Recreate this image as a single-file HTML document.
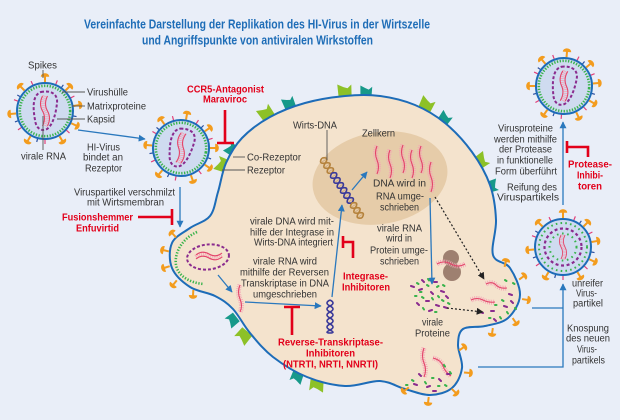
<!DOCTYPE html>
<html>
<head>
<meta charset="utf-8">
<style>
  html,body{margin:0;padding:0;background:#e9eef8;}
  svg{display:block;}
  .t{font-family:"Liberation Sans",Arial,sans-serif;font-size:10px;fill:#333;}
  .r{font-family:"Liberation Sans",Arial,sans-serif;font-size:10px;font-weight:bold;fill:#e2001a;}
  .ti{font-family:"Liberation Sans",Arial,sans-serif;font-size:13px;font-weight:bold;fill:#1e6db7;}
  .rh{fill:none;stroke:#f5a3b5;stroke-width:5;stroke-dasharray:0.8 1.1;}
  .rc{fill:none;stroke:#e3456a;stroke-width:1.1;}
  .ar{fill:none;stroke:#2a78bd;stroke-width:1.3;}
  .ln{stroke:#555;stroke-width:0.9;fill:none;}
  .inh{stroke:#e2001a;stroke-width:2.6;fill:none;}
</style>
</head>
<body>
<svg width="620" height="420" viewBox="0 0 620 420" xmlns="http://www.w3.org/2000/svg">
<defs>
  <marker id="ab" viewBox="0 0 10 10" refX="9" refY="5" markerWidth="7" markerHeight="7" markerUnits="userSpaceOnUse" orient="auto"><path d="M0,0 L10,5 L0,10 z" fill="#2a78bd"/></marker>
  <marker id="ak" viewBox="0 0 10 10" refX="9" refY="5" markerWidth="7" markerHeight="7" markerUnits="userSpaceOnUse" orient="auto"><path d="M0,0 L10,5 L0,10 z" fill="#222"/></marker>
  <g id="spk"><line x1="0" y1="0" x2="0" y2="6" stroke="#f39c1e" stroke-width="2"/><path d="M-4.2,0.8 C-4.2,-4 4.2,-4 4.2,0.8 Z" fill="#f39c1e"/></g>
  <g id="rec"><path d="M-6.5,2 L6.5,2 L7,-10 L3,-6.5 L-1,-8 L-7,-11 Z"/></g>
  <g id="spikes">
    <use href="#spk" transform="rotate(0) translate(0,-35)"/>
    <use href="#spk" transform="rotate(45) translate(0,-35)"/>
    <use href="#spk" transform="rotate(80) translate(0,-35)"/>
    <use href="#spk" transform="rotate(115) translate(0,-35)"/>
    <use href="#spk" transform="rotate(150) translate(0,-35)"/>
    <use href="#spk" transform="rotate(210) translate(0,-35)"/>
    <use href="#spk" transform="rotate(265) translate(0,-35)"/>
    <use href="#spk" transform="rotate(315) translate(0,-35)"/>
    <g stroke="#e0407a" stroke-width="1.2">
      <line y1="-28" y2="-33" transform="rotate(22)"/>
      <line y1="-28" y2="-33" transform="rotate(63)"/>
      <line y1="-28" y2="-33" transform="rotate(132)"/>
      <line y1="-28" y2="-33" transform="rotate(180)"/>
      <line y1="-28" y2="-33" transform="rotate(235)"/>
      <line y1="-28" y2="-33" transform="rotate(290)"/>
      <line y1="-28" y2="-33" transform="rotate(335)"/>
    </g>
    <g stroke="#2a4fa0" stroke-width="1.2">
      <line y1="-28" y2="-32" transform="rotate(35)"/>
      <line y1="-28" y2="-32" transform="rotate(100)"/>
      <line y1="-28" y2="-32" transform="rotate(195)"/>
      <line y1="-28" y2="-32" transform="rotate(250)"/>
      <line y1="-28" y2="-32" transform="rotate(300)"/>
    </g>
  </g>
  <g id="vrna">
    <path class="rh" d="M0,-15 q-4,8 0,15 t0,15"/>
    <path class="rc" d="M-2.5,-15 q-4,8 0,15 t0,15"/>
    <path class="rc" d="M2.5,-15 q-4,8 0,15 t0,15"/>
  </g>
  <g id="vm">
    <use href="#spikes"/>
    <circle r="28" fill="#cfdbf0" stroke="#1d6cb8" stroke-width="2"/>
    <circle r="25.2" fill="none" stroke="#37b34a" stroke-width="2.6" stroke-dasharray="1.3 1.5"/>
    <path d="M-4,-19 C6,-21 13,-17 12,-8 C11,2 8,14 2,18 C-4,21 -9,17 -10,9 C-12,-2 -13,-16 -4,-19 Z" fill="none" stroke="#8a2b8e" stroke-width="2" stroke-dasharray="3 2"/>
    <use href="#vrna"/>
  </g>
  <g id="vi">
    <use href="#spikes"/>
    <circle r="28" fill="#cfdbf0" stroke="#1d6cb8" stroke-width="2"/>
    <circle r="24" fill="none" stroke="#37b34a" stroke-width="2" stroke-dasharray="1.6 3.2"/>
    <circle r="18.5" fill="none" stroke="#8a2b8e" stroke-width="2.2" stroke-dasharray="3 2.6"/>
    <circle r="13.5" fill="none" stroke="#37b34a" stroke-width="2" stroke-dasharray="1.6 3.6"/>
    <use href="#vrna" transform="scale(0.8)"/>
  </g>
</defs>

<rect width="620" height="420" fill="#e9eef8"/>

<!-- Title -->
<text class="ti" x="84" y="28.5" textLength="346" lengthAdjust="spacingAndGlyphs">Vereinfachte Darstellung der Replikation des HI-Virus in der Wirtszelle</text>
<text class="ti" x="142" y="44.5" textLength="231" lengthAdjust="spacingAndGlyphs">und Angriffspunkte von antiviralen Wirkstoffen</text>

<!-- Receptors -->
<g fill="#8dc127">
  <use href="#rec" transform="translate(268,116) rotate(-35)"/>
  <use href="#rec" transform="translate(345,95) rotate(-4)"/>
  <use href="#rec" transform="translate(425,108) rotate(25)"/>
  <use href="#rec" transform="translate(478,163) rotate(55)"/>
  <use href="#rec" transform="translate(226,166) rotate(-70)"/>
  <use href="#rec" transform="translate(246,333) rotate(-140)"/>
  <use href="#rec" transform="translate(317,381) rotate(185)"/>
</g>
<g fill="#17998a">
  <use href="#rec" transform="translate(290,106) rotate(-22) scale(0.85)"/>
  <use href="#rec" transform="translate(366,95) rotate(2) scale(0.85)"/>
  <use href="#rec" transform="translate(443,121) rotate(35) scale(0.85)"/>
  <use href="#rec" transform="translate(489,187) rotate(72) scale(0.85)"/>
  <use href="#rec" transform="translate(234,151) rotate(-55) scale(0.85)"/>
  <use href="#rec" transform="translate(235,318) rotate(-128) scale(0.85)"/>
  <use href="#rec" transform="translate(298,374) rotate(200) scale(0.85)"/>
</g>

<!-- Cell -->
<path d="M226,163 C230,154 234.7,145.7 242,138 C249.3,130.3 259.5,122.8 270,117 C280.5,111.2 292.5,106.5 305,103 C317.5,99.5 332.5,97.2 345,96 C357.5,94.8 368.3,94.5 380,96 C391.7,97.5 404.2,100.5 415,105 C425.8,109.5 435.5,115.2 445,123 C454.5,130.8 464.5,141.7 472,152 C479.5,162.3 486,173.7 490,185 C494,196.3 495.5,208.3 496,220 C496.5,231.7 490.7,247 493,255 C495.3,263 505.5,261.3 510,268 C514.5,274.7 520.3,286.7 520,295 C519.7,303.3 513.8,312.8 508,318 C502.2,323.2 492.5,324.2 485,326 C477.5,327.8 467.5,325.8 463,329 C458.5,332.2 458.2,338.5 458,345 C457.8,351.5 463,360.8 462,368 C461,375.2 457.3,383.5 452,388 C446.7,392.5 437.8,394.8 430,395 C422.2,395.2 413.3,391.3 405,389 C396.7,386.7 390,381.5 380,381 C370,380.5 357.2,386.7 345,386 C332.8,385.3 319,381.8 307,377 C295,372.2 282.5,364.3 273,357 C263.5,349.7 256.7,341 250,333 C243.3,325 238.8,315.2 233,309 C227.2,302.8 222.2,299.7 215,296 C207.8,292.3 197.2,291.7 190,287 C182.8,282.3 175,275.3 172,268 C169,260.7 169,249.7 172,243 C175,236.3 183.7,232.5 190,228 C196.3,223.5 205.3,222 210,216 C214.7,210 215.3,200.8 218,192 C220.7,183.2 222,172 226,163 Z" fill="#f4e3cd" stroke="#1d6cb8" stroke-width="2"/>

<!-- Nucleus -->
<ellipse cx="380" cy="178" rx="68" ry="46" transform="rotate(-10 380 178)" fill="#e6cca9"/>

<!-- Host DNA helix -->
<g transform="translate(322,158) rotate(56.3)" fill="none" stroke-width="1.6">
  <line x1="0" y1="0" x2="72" y2="0" stroke="#c9a070" stroke-width="5" stroke-dasharray="0.6 2.4"/>
  <path d="M0,0 Q3,-7 6,0 T12,0 T18,0" stroke="#b5823c"/>
  <path d="M0,0 Q3,7 6,0 T12,0 T18,0" stroke="#b5823c"/>
  <path d="M18,0 Q21,7 24,0 T30,0 T36,0 T42,0 T48,0 T54,0" stroke="#3a3a9a"/>
  <path d="M18,0 Q21,-7 24,0 T30,0 T36,0 T42,0 T48,0 T54,0" stroke="#3a3a9a"/>
  <path d="M54,0 Q57,7 60,0 T66,0 T72,0" stroke="#b5823c"/>
  <path d="M54,0 Q57,-7 60,0 T66,0 T72,0" stroke="#b5823c"/>
</g>
<!-- small viral DNA -->
<g transform="translate(330,300) rotate(90)" fill="none" stroke-width="1.6" stroke="#3a3a9a">
  <path d="M0,0 Q3,-6 6,0 T12,0 T18,0 T24,0 T30,0 T33,0"/>
  <path d="M0,0 Q3,6 6,0 T12,0 T18,0 T24,0 T30,0 T33,0"/>
</g>

<!-- RNA strands -->
<g>
  <path class="rh" d="M377,146 q-3,7 0,14 t0,14"/><path class="rc" d="M377,146 q-3,7 0,14 t0,14"/>
  <path class="rh" d="M390,150 q-3,7 0,14 t0,14"/><path class="rc" d="M390,150 q-3,7 0,14 t0,14"/>
  <path class="rh" d="M403,145 q-3,7 0,14 t0,14"/><path class="rc" d="M403,145 q-3,7 0,14 t0,14"/>
  <path class="rh" d="M412,150 q-3,7 0,14 t0,14"/><path class="rc" d="M412,150 q-3,7 0,14 t0,14"/>
  <path class="rh" d="M421,146 q-3,7 0,14 t0,13"/><path class="rc" d="M421,146 q-3,7 0,14 t0,13"/>
  <path class="rh" d="M431,162 q-3,8 0,15 t0,15"/><path class="rc" d="M431,162 q-3,8 0,15 t0,15"/>
  <path class="rh" d="M240,285 q-3,7 0,14 t0,13"/><path class="rc" d="M240,285 q-3,7 0,14 t0,13"/>
</g>

<!-- Ribosome -->
<circle cx="451" cy="258" r="8" fill="#9e8070"/>
<circle cx="452" cy="272" r="9" fill="#9e8070"/>
<path class="rh" d="M437,264 q7,-4 14,0 t14,0"/><path class="rc" d="M437,264 q7,-4 14,0 t14,0"/>

<!-- Bud RNA -->
<path class="rh" d="M486,284 q6,-3 10,1 t11,3"/><path class="rc" d="M486,284 q6,-3 10,1 t11,3"/>
<path class="rh" d="M471,300 q6,-3 12,0 t12,2"/><path class="rc" d="M471,300 q6,-3 12,0 t12,2"/>
<path class="rh" d="M424,348 q-3,8 0,15 t0,14"/><path class="rc" d="M424,348 q-3,8 0,15 t0,14"/>
<path class="rh" d="M433,358 q8,2 10,8 t8,10"/><path class="rc" d="M433,358 q8,2 10,8 t8,10"/>

<!-- Proteins -->
<path fill="none" stroke="#8a2b8e" stroke-width="2" stroke-linecap="round" d="M411,286 l3,1 M419,290 l3,-1 M431,292 l2,2 M441,291 l3,1 M446,296 l2,2 M426,301 l3,0 M436,305 l3,1 M417,303 l2,2 M429,311 l3,-1 M444,307 l3,1 M422,280 l2,2 M434,282 l3,0 M504,306 l3,1 M491,311 l3,0 M494,319 l2,2 M509,294 l3,1 M511,301 l2,2 M480,312 l3,1 M414,384 l3,1 M427,387 l3,-1 M439,379 l2,2 M447,374 l3,0 M419,374 l2,2 M433,391 l3,0"/>
<path fill="none" stroke="#37b34a" stroke-width="2" stroke-linecap="round" d="M417,283 l1.5,1 M427,285 l1.5,1 M437,287 l1.5,-1 M422,297 l1.5,1 M432,298 l1,1.5 M442,300 l1.5,1 M415,296 l1.5,0 M423,308 l1,1.5 M435,312 l1.5,0 M448,303 l1.5,1 M428,279 l1,1.5 M443,285 l1.5,1 M420,292 l1.5,0 M438,296 l1,1.2 M502,300 l1.5,1 M507,312 l1,1.5 M513,283 l1.5,1 M495,305 l1.5,0 M500,317 l1,1.5 M505,280 l1.5,1 M515,308 l1,1 M489,318 l1.5,0 M412,380 l1.5,1 M425,382 l1,1.5 M438,386 l1.5,0 M450,372 l1,1.5 M445,385 l1.5,1 M432,378 l1.5,0 M444,365 l1,1.5 M406,385 l1.5,0"/>

<!-- Fused virus in left bulge -->
<path d="M197,232 C183,238 174,252 176,265 C178,276 190,283 204,284" fill="none" stroke="#37b34a" stroke-width="2.6" stroke-dasharray="1.3 1.6"/>
<ellipse cx="208" cy="257" rx="21" ry="12.5" transform="rotate(-6 208 257)" fill="none" stroke="#8a2b8e" stroke-width="2" stroke-dasharray="3 2"/>
<path class="rh" d="M196,257 q6,-5 13,-1 t13,-1"/><path class="rc" d="M196,255 q6,-5 13,-1 t13,-1"/><path class="rc" d="M196,259 q6,-5 13,-1 t13,-1"/>

<!-- Spikes on membrane -->
<use href="#spk" transform="translate(172,233) rotate(-43)"/>
<use href="#spk" transform="translate(163,250) rotate(-76)"/>
<use href="#spk" transform="translate(164,268) rotate(-108)"/>
<use href="#spk" transform="translate(173,285) rotate(-141)"/>
<use href="#spk" transform="translate(193,296) rotate(-177)"/>
<use href="#spk" transform="translate(506,261) rotate(14)"/>
<use href="#spk" transform="translate(524,276) rotate(54)"/>
<use href="#spk" transform="translate(528,300) rotate(99)"/>
<use href="#spk" transform="translate(516,323) rotate(146)"/>
<use href="#spk" transform="translate(492,334) rotate(188)"/>
<use href="#spk" transform="translate(464,347) rotate(55)"/>
<use href="#spk" transform="translate(470,373) rotate(95)"/>
<use href="#spk" transform="translate(456,393) rotate(134)"/>
<use href="#spk" transform="translate(428,403) rotate(187)"/>
<use href="#spk" transform="translate(404,391) rotate(233)"/>

<!-- Viruses -->
<use href="#vm" transform="translate(45,111)"/>
<use href="#vm" transform="translate(181,148) rotate(10)"/>
<use href="#vm" transform="translate(564,86) rotate(5)"/>
<use href="#vi" transform="translate(563,247)"/>

<!-- Label lines -->
<g class="ln">
  <line x1="43" y1="70" x2="43" y2="78"/>
  <line x1="62" y1="92" x2="85" y2="92"/>
  <line x1="72" y1="106" x2="85" y2="106"/>
  <line x1="57" y1="119" x2="85" y2="119"/>
  <line x1="43" y1="116" x2="43" y2="150"/>
  <line x1="233" y1="157" x2="245" y2="157"/>
  <line x1="222" y1="170" x2="245" y2="170"/>
  <line x1="327" y1="130" x2="327" y2="160"/>
</g>

<!-- Arrows -->
<g class="ar" marker-end="url(#ab)">
  <line x1="78" y1="130" x2="145" y2="139"/>
  <line x1="180" y1="187" x2="180" y2="227"/>
  <line x1="218" y1="275" x2="232" y2="292"/>
  <line x1="245" y1="302" x2="321" y2="306"/>
  <line x1="332" y1="297" x2="342" y2="205"/>
  <line x1="352" y1="190" x2="367" y2="172"/>
  <line x1="430" y1="198" x2="432" y2="284"/>
  <path d="M478,367 H563 V284"/>
  <line x1="563" y1="205" x2="563" y2="122"/>
</g>
<line class="ar" x1="532" y1="308" x2="563" y2="308"/>
<g fill="none" stroke="#222" stroke-width="1.2" stroke-dasharray="2 2" marker-end="url(#ak)">
  <line x1="435" y1="197" x2="484" y2="279"/>
  <line x1="447" y1="308" x2="483" y2="312"/>
</g>

<!-- Inhibitor marks -->
<g class="inh">
  <path d="M225,110 V143 M217,143 H234"/>
  <path d="M138,217 H172 M172,209 V225"/>
  <path d="M343,236 V248 M343,242 H353 V258"/>
  <path d="M284,307 H300 M292,307 V335"/>
  <path d="M567,141 V153 M567,147 H588 V157"/>
</g>

<!-- Grey labels -->
<g class="t">
  <text x="28" y="68.5" textLength="29" lengthAdjust="spacingAndGlyphs">Spikes</text>
  <text x="87" y="95.5" textLength="41" lengthAdjust="spacingAndGlyphs">Virushülle</text>
  <text x="87" y="109.5" textLength="59" lengthAdjust="spacingAndGlyphs">Matrixproteine</text>
  <text x="87" y="122.5" textLength="28" lengthAdjust="spacingAndGlyphs">Kapsid</text>
  <text x="21" y="159.5" textLength="45" lengthAdjust="spacingAndGlyphs">virale RNA</text>
  <text x="87" y="150.5" textLength="33" lengthAdjust="spacingAndGlyphs">HI-Virus</text>
  <text x="83" y="160.5" textLength="40" lengthAdjust="spacingAndGlyphs">bindet an</text>
  <text x="85" y="171.5" textLength="37" lengthAdjust="spacingAndGlyphs">Rezeptor</text>
  <text x="74" y="195.5" textLength="101" lengthAdjust="spacingAndGlyphs">Viruspartikel verschmilzt</text>
  <text x="87" y="205.5" textLength="77" lengthAdjust="spacingAndGlyphs">mit Wirtsmembran</text>
  <text x="247" y="160.5" textLength="54" lengthAdjust="spacingAndGlyphs">Co-Rezeptor</text>
  <text x="247" y="173.5" textLength="38" lengthAdjust="spacingAndGlyphs">Rezeptor</text>
  <text x="293" y="128.5" textLength="44" lengthAdjust="spacingAndGlyphs">Wirts-DNA</text>
  <text x="362" y="136.5" textLength="33" lengthAdjust="spacingAndGlyphs">Zellkern</text>
  <text x="373" y="186.5" textLength="53" lengthAdjust="spacingAndGlyphs">DNA wird in</text>
  <text x="376" y="199.5" textLength="48" lengthAdjust="spacingAndGlyphs">RNA umge-</text>
  <text x="380" y="210.5" textLength="39" lengthAdjust="spacingAndGlyphs">schrieben</text>
  <text x="377" y="231.5" textLength="45" lengthAdjust="spacingAndGlyphs">virale RNA</text>
  <text x="386" y="241.5" textLength="26" lengthAdjust="spacingAndGlyphs">wird in</text>
  <text x="370" y="253.5" textLength="58" lengthAdjust="spacingAndGlyphs">Protein umge-</text>
  <text x="380" y="264.5" textLength="39" lengthAdjust="spacingAndGlyphs">schrieben</text>
  <text x="250" y="224.5" textLength="84" lengthAdjust="spacingAndGlyphs">virale DNA wird mit-</text>
  <text x="250" y="235.5" textLength="84" lengthAdjust="spacingAndGlyphs">hilfe der Integrase in</text>
  <text x="254" y="245.5" textLength="79" lengthAdjust="spacingAndGlyphs">Wirts-DNA integriert</text>
  <text x="253" y="264.5" textLength="64" lengthAdjust="spacingAndGlyphs">virale RNA wird</text>
  <text x="240" y="275.5" textLength="89" lengthAdjust="spacingAndGlyphs">mithilfe der Reversen</text>
  <text x="241" y="286.5" textLength="88" lengthAdjust="spacingAndGlyphs">Transkriptase in DNA</text>
  <text x="253" y="297.5" textLength="64" lengthAdjust="spacingAndGlyphs">umgeschrieben</text>
  <text x="422" y="325.5" textLength="21" lengthAdjust="spacingAndGlyphs">virale</text>
  <text x="415" y="336.5" textLength="35" lengthAdjust="spacingAndGlyphs">Proteine</text>
  <text x="572" y="286.5" textLength="31" lengthAdjust="spacingAndGlyphs">unreifer</text>
  <text x="576" y="296.5" textLength="21" lengthAdjust="spacingAndGlyphs">Virus-</text>
  <text x="573" y="306.5" textLength="30" lengthAdjust="spacingAndGlyphs">partikel</text>
  <text x="567" y="331.5" textLength="42" lengthAdjust="spacingAndGlyphs">Knospung</text>
  <text x="566" y="341.5" textLength="44" lengthAdjust="spacingAndGlyphs">des neuen</text>
  <text x="577" y="352.5" textLength="20" lengthAdjust="spacingAndGlyphs">Virus-</text>
  <text x="572" y="363.5" textLength="33" lengthAdjust="spacingAndGlyphs">partikels</text>
  <text x="498" y="131.5" textLength="55" lengthAdjust="spacingAndGlyphs">Virusproteine</text>
  <text x="494" y="142.5" textLength="63" lengthAdjust="spacingAndGlyphs">werden mithilfe</text>
  <text x="499" y="152.5" textLength="53" lengthAdjust="spacingAndGlyphs">der Protease</text>
  <text x="497" y="163.5" textLength="56" lengthAdjust="spacingAndGlyphs">in funktionelle</text>
  <text x="495" y="174.5" textLength="62" lengthAdjust="spacingAndGlyphs">Form überführt</text>
  <text x="507" y="190.5" textLength="50" lengthAdjust="spacingAndGlyphs">Reifung des</text>
  <text x="497" y="200.5" textLength="62" lengthAdjust="spacingAndGlyphs">Viruspartikels</text>
</g>

<!-- Red labels -->
<g class="r">
  <text x="187" y="92.5" textLength="77" lengthAdjust="spacingAndGlyphs">CCR5-Antagonist</text>
  <text x="203" y="102.5" textLength="44" lengthAdjust="spacingAndGlyphs">Maraviroc</text>
  <text x="62" y="220.5" textLength="71" lengthAdjust="spacingAndGlyphs">Fusionshemmer</text>
  <text x="76" y="231.5" textLength="43" lengthAdjust="spacingAndGlyphs">Enfuvirtid</text>
  <text x="343" y="279.5" textLength="45" lengthAdjust="spacingAndGlyphs">Integrase-</text>
  <text x="342" y="290.5" textLength="48" lengthAdjust="spacingAndGlyphs">Inhibitoren</text>
  <text x="278" y="345.5" textLength="105" lengthAdjust="spacingAndGlyphs">Reverse-Transkriptase-</text>
  <text x="306" y="356.5" textLength="49" lengthAdjust="spacingAndGlyphs">Inhibitoren</text>
  <text x="283" y="367.5" textLength="95" lengthAdjust="spacingAndGlyphs">(NTRTI, NRTI, NNRTI)</text>
  <text x="568" y="167.5" textLength="44" lengthAdjust="spacingAndGlyphs">Protease-</text>
  <text x="577" y="178.5" textLength="26" lengthAdjust="spacingAndGlyphs">Inhibi-</text>
  <text x="578" y="189.5" textLength="24" lengthAdjust="spacingAndGlyphs">toren</text>
</g>
</svg>
</body>
</html>
